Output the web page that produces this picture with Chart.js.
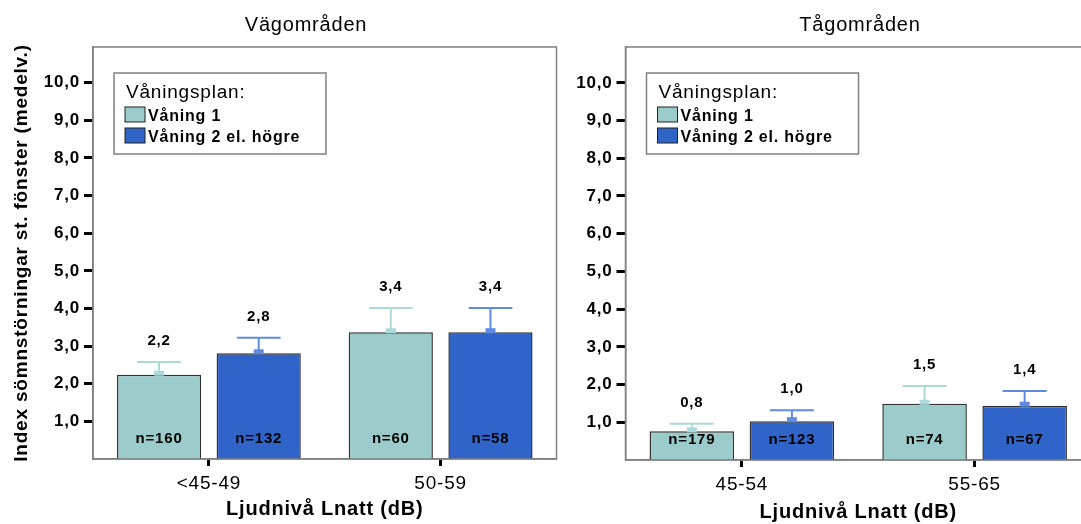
<!DOCTYPE html>
<html lang="sv">
<head>
<meta charset="UTF-8">
<title>Index sömnstörningar st. fönster</title>
<script src="https://cdn.jsdelivr.net/npm/chart.js"></script>
<style>
  html, body { margin: 0; padding: 0; background: #fff; overflow: hidden; width: 1081px; height: 524px; }
  #vag { position: absolute; left: 0; top: 0; }
  #tag { position: absolute; left: 557px; top: 0; }
</style>
</head>
<body>
<canvas id="vag" width="560" height="524"></canvas>
<canvas id="tag" width="544" height="524"></canvas>

<script>
// Vägområden
const vagKategorier = ['<45-49', '50-59'];
const vagVaning1 = [2.24, 3.37];
const vagVaning1Ovre = [2.58, 4.01];
const vagVaning1N = [160, 60];
const vagVaning2 = [2.81, 3.37];
const vagVaning2Ovre = [3.22, 4.01];
const vagVaning2N = [132, 58];

// Tågområden
const tagKategorier = ['45-54', '55-65'];
const tagVaning1 = [0.76, 1.49];
const tagVaning1Ovre = [0.96, 1.96];
const tagVaning1N = [179, 74];
const tagVaning2 = [1.03, 1.44];
const tagVaning2Ovre = [1.32, 1.83];
const tagVaning2N = [123, 67];

const yTicks = [1, 2, 3, 4, 5, 6, 7, 8, 9, 10];

const FONT = '"Liberation Sans", Arial, sans-serif';
const GRAY = '#808080';

const fmt = v => v.toFixed(1).replace('.', ',');

// error bars, labels, frame, legend and title
const decor = {
    id: 'decor',
    beforeLayout(chart) { chart.ctx.letterSpacing = '0.8px'; },
    beforeDraw(chart) { chart.ctx.letterSpacing = '0.8px'; },
    afterDatasetsDraw(chart) {
        const ctx = chart.ctx, y = chart.scales.y, a = chart.chartArea;
        ctx.save();
        chart.data.datasets.forEach((ds, di) => {
            chart.getDatasetMeta(di).data.forEach((bar, i) => {
                const top = y.getPixelForValue(ds.data[i]);
                const up = y.getPixelForValue(ds.upper[i]);
                const half = bar.width * 0.26;
                ctx.strokeStyle = ds.errColor;
                ctx.lineWidth = 2;
                ctx.beginPath();
                ctx.moveTo(bar.x, top);
                ctx.lineTo(bar.x, up);
                ctx.moveTo(bar.x - half, up);
                ctx.lineTo(bar.x + half, up);
                ctx.stroke();
                ctx.fillStyle = ds.errColor;
                ctx.fillRect(bar.x - 5, top - 4, 10, 5);

                ctx.fillStyle = '#000';
                ctx.font = 'bold 15px ' + FONT;
                ctx.textAlign = 'center';
                ctx.textBaseline = 'middle';
                ctx.fillText(fmt(ds.data[i]), bar.x, up - 21);
                ctx.fillText('n=' + ds.n[i], bar.x, a.bottom - 20);
            });
        });
        ctx.restore();
    },
    afterDraw(chart, args, opts) {
        const ctx = chart.ctx, a = chart.chartArea;
        ctx.save();
        ctx.strokeStyle = GRAY;
        ctx.lineWidth = 1.5;
        ctx.strokeRect(a.left, a.top, a.right - a.left, a.bottom - a.top);

        // legend
        const lx = a.left + 21, ly = a.top + 26;
        ctx.fillStyle = '#fff';
        ctx.fillRect(lx, ly, 212, 81);
        ctx.strokeRect(lx, ly, 212, 81);
        ctx.fillStyle = '#000';
        ctx.textAlign = 'left';
        ctx.textBaseline = 'alphabetic';
        ctx.font = '19px ' + FONT;
        ctx.fillText('Våningsplan:', lx + 12, ly + 25);
        chart.data.datasets.forEach((ds, k) => {
            const sy = ly + 34 + k * 21;
            ctx.fillStyle = ds.backgroundColor;
            ctx.fillRect(lx + 11, sy, 20, 15);
            ctx.strokeStyle = '#222';
            ctx.lineWidth = 1;
            ctx.strokeRect(lx + 11, sy, 20, 15);
            ctx.fillStyle = '#000';
            ctx.font = 'bold 16px ' + FONT;
            ctx.fillText(ds.label, lx + 34, sy + 14);
        });

        // panel title
        ctx.font = '20px ' + FONT;
        ctx.textAlign = 'center';
        ctx.textBaseline = 'middle';
        ctx.fillText(opts.title, opts.titleX, 25);
        ctx.restore();
    }
};

function createPanel(canvasId, kategorier, v1, v1Ovre, v1N, v2, v2Ovre, v2N, p) {
    new Chart(document.getElementById(canvasId), {
        type: 'bar',
        data: {
            labels: kategorier,
            datasets: [{
                label: 'Våning 1',
                data: v1,
                upper: v1Ovre,
                n: v1N,
                backgroundColor: '#9cCBCB',
                errColor: '#acdada',
                borderColor: '#333',
                borderWidth: 1.5,
                categoryPercentage: 0.86,
                barPercentage: 0.845
            }, {
                label: 'Våning 2 el. högre',
                data: v2,
                upper: v2Ovre,
                n: v2N,
                backgroundColor: '#3064C8',
                errColor: '#5f8ce0',
                borderColor: '#333',
                borderWidth: 1.5,
                categoryPercentage: 0.86,
                barPercentage: 0.845
            }]
        },
        options: {
            responsive: false,
            animation: false,
            layout: { padding: { top: 47, right: p.padRight, left: 0, bottom: 0 } },
            plugins: {
                legend: { display: false },
                tooltip: { enabled: false },
                decor: { title: p.title, titleX: p.titleX }
            },
            scales: {
                x: {
                    afterFit: s => { s.height = p.xHeight; },
                    grid: { offset: false, drawOnChartArea: false, tickLength: 7, tickWidth: 3, tickColor: '#000' },
                    border: { color: GRAY, width: 1.5 },
                    ticks: { color: '#000', padding: 6, font: { family: FONT, size: 19 } },
                    title: {
                        display: true,
                        text: 'Ljudnivå Lnatt (dB)',
                        color: '#000',
                        font: { family: FONT, size: 20, weight: 'bold' },
                        padding: { top: 0, bottom: p.xTitlePad }
                    }
                },
                y: {
                    min: 0,
                    max: 10.95,
                    afterFit: s => { s.width = p.yWidth; },
                    afterBuildTicks: s => { s.ticks = yTicks.map(v => ({ value: v })); },
                    grid: { drawOnChartArea: false, tickLength: 9, tickWidth: 3, tickColor: '#000' },
                    border: { color: GRAY, width: 1.5 },
                    ticks: {
                        color: '#000',
                        padding: 4,
                        font: { family: FONT, size: 17, weight: 'bold' },
                        callback: v => fmt(v)
                    },
                    title: {
                        display: p.yTitle,
                        text: 'Index sömnstörningar st. fönster (medelv.)',
                        color: '#000',
                        font: { family: FONT, size: 19, weight: 'bold' },
                        padding: { top: 10.5, bottom: 0 }
                    }
                }
            }
        },
        plugins: [decor]
    });
}

createPanel('vag', vagKategorier, vagVaning1, vagVaning1Ovre, vagVaning1N, vagVaning2, vagVaning2Ovre, vagVaning2N,
    { title: 'Vägområden', titleX: 306, padRight: 3.5, xHeight: 65, xTitlePad: 3, yWidth: 93, yTitle: true });
createPanel('tag', tagKategorier, tagVaning1, tagVaning1Ovre, tagVaning1N, tagVaning2, tagVaning2Ovre, tagVaning2N,
    { title: 'Tågområden', titleX: 303, padRight: 10, xHeight: 64, xTitlePad: 0, yWidth: 68.5, yTitle: false });
</script>
</body>
</html>
